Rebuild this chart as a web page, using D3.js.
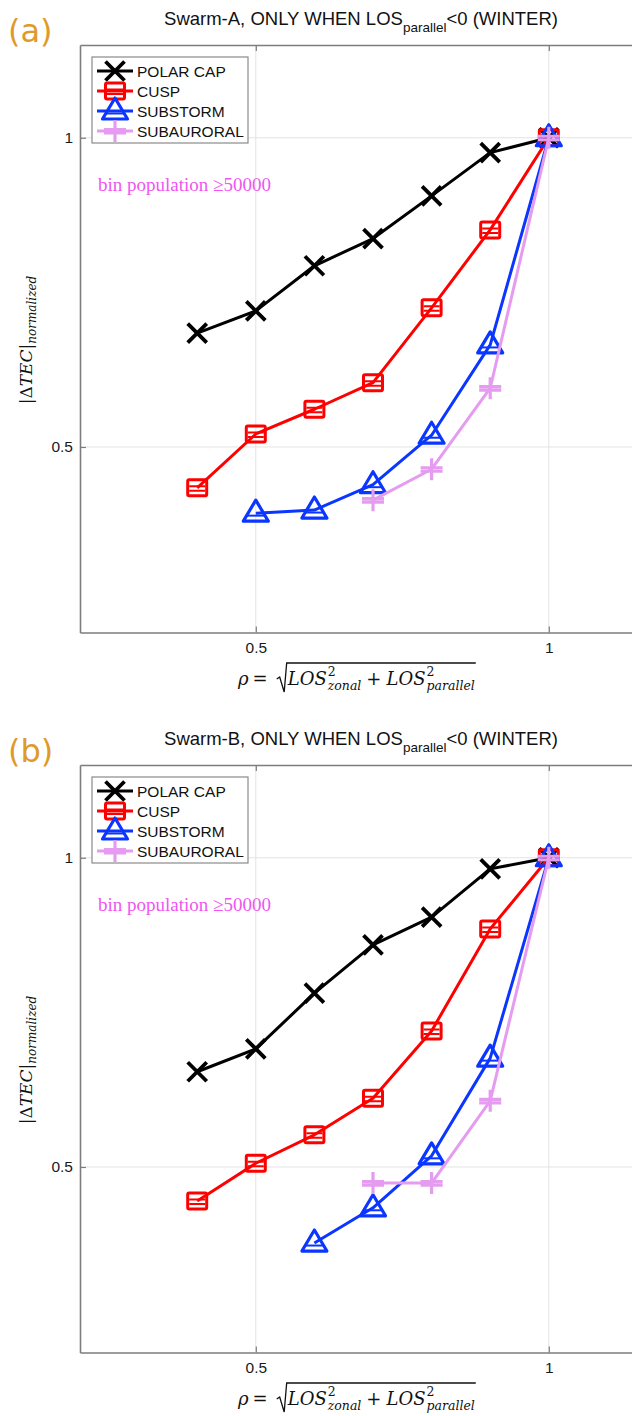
<!DOCTYPE html>
<html>
<head>
<meta charset="utf-8">
<script src="https://cdn.jsdelivr.net/npm/d3@7"></script>
<style>
  html, body { margin: 0; padding: 0; background: #fff; }
  svg { display: block; font-family: "Liberation Sans", Arial, Helvetica, sans-serif; }
  .math { font-family: "DejaVu Serif", "Liberation Serif", serif; }
  .note { font-family: "Liberation Serif", "DejaVu Serif", serif; }
  .letter { font-family: "DejaVu Sans", sans-serif; }
</style>
</head>
<body>
<svg id="chart" width="632" height="1416"></svg>
<script>
// Normalized |ΔTEC| versus rho, one panel per Swarm satellite
const rho = [0.4, 0.5, 0.6, 0.7, 0.8, 0.9, 1.0];
const regions = ["POLAR CAP", "CUSP", "SUBSTORM", "SUBAURORAL"];
const panelLetters = ["(a)", "(b)"];
const satellites = ["Swarm-A", "Swarm-B"];

// Swarm-A (winter, LOS_parallel < 0)
const polarCapA   = [0.684, 0.720, 0.793, 0.837, 0.906, 0.976, 1.0];
const cuspA       = [0.434, 0.521, 0.561, 0.604, 0.725, 0.851, 1.0];
const substormA   = [null, 0.393, 0.398, 0.439, 0.519, 0.665, 1.0];
const subauroralA = [null, null, null, 0.414, 0.464, 0.595, 1.0];

// Swarm-B (winter, LOS_parallel < 0)
const polarCapB   = [0.654, 0.691, 0.781, 0.859, 0.904, 0.982, 1.0];
const cuspB       = [0.445, 0.506, 0.552, 0.611, 0.720, 0.885, 1.0];
const substormB   = [null, null, 0.377, 0.434, 0.518, 0.676, 1.0];
const subauroralB = [null, null, null, 0.474, 0.474, 0.607, 1.0];

const xTicks = [0.5, 1];
const yTicks = [0.5, 1];
const noteText = "bin population \u226550000";

const colors = ["#000000", "#ff0000", "#0a36ff", "#e59cf0"];
const markers = ["x", "square", "triangle", "plus"];

const svg = d3.select("#chart");

function drawMarker(g, type, color) {
  const m = g.append("g").attr("fill", "none").attr("stroke", color);
  if (type === "x") {
    const s = 9.5;
    m.append("path").attr("stroke-width", 3.8)
      .attr("d", `M${-s},${-s}L${s},${s}M${-s},${s}L${s},${-s}`);
  } else if (type === "square") {
    m.append("rect").attr("x", -9.5).attr("y", -8).attr("width", 19).attr("height", 16)
      .attr("rx", 1.5).attr("stroke-width", 3);
    m.append("path").attr("stroke-width", 2).attr("d", "M-8,-1.5H8M-8,3H8");
  } else if (type === "triangle") {
    m.append("path").attr("stroke-width", 3.2).attr("stroke-linejoin", "round")
      .attr("d", "M0,-13L12.5,8L-12.5,8Z");
    m.append("path").attr("stroke-width", 2).attr("d", "M-9,2.5H9");
  } else if (type === "plus") {
    m.append("path").attr("stroke-width", 3.2)
      .attr("d", "M0,-11V11M-11,-1.5H11M-11,2H11");
  }
  return m;
}

function drawPanel(idx, offsetY, series) {
  const g = svg.append("g").attr("transform", `translate(0,${offsetY})`);
  const x = d3.scaleLinear().domain([0.2, 1.2]).range([80, 666]);
  const y = d3.scaleLinear().domain([0.2, 1.15]).range([632.5, 45]);
  const [x0, x1] = x.range();
  const [y0, y1] = y.range();

  // grid
  g.append("g").selectAll("line").data(xTicks).join("line")
    .attr("x1", d => x(d)).attr("x2", d => x(d)).attr("y1", y0).attr("y2", y1)
    .attr("stroke", "#e3e3e3").attr("stroke-width", 1);
  g.append("g").selectAll("line").data(yTicks).join("line")
    .attr("x1", x0).attr("x2", x1).attr("y1", d => y(d)).attr("y2", d => y(d))
    .attr("stroke", "#e3e3e3").attr("stroke-width", 1);

  // axes
  const axisColor = "#7d7d7d";
  const bottom = g.append("g").attr("transform", `translate(0,${y0})`)
    .call(d3.axisBottom(x).tickValues(xTicks).tickFormat(d3.format("")).tickSizeInner(-6).tickSizeOuter(0).tickPadding(9));
  const top = g.append("g").attr("transform", `translate(0,${y1})`)
    .call(d3.axisTop(x).tickValues(xTicks).tickFormat("").tickSizeInner(-6).tickSizeOuter(0));
  const left = g.append("g").attr("transform", `translate(${x0},0)`)
    .call(d3.axisLeft(y).tickValues(yTicks).tickFormat(d3.format("")).tickSizeInner(-6).tickSizeOuter(0).tickPadding(7));
  [bottom, top, left].forEach(a => {
    a.attr("font-family", null);
    a.select(".domain").attr("stroke", axisColor).attr("stroke-width", 1.6);
    a.selectAll(".tick line").attr("stroke", axisColor).attr("stroke-width", 1.2);
    a.selectAll(".tick text").attr("fill", "#1a1a1a").attr("font-size", 15.5);
  });

  // series lines and markers
  const line = d3.line().defined(d => d[1] != null).x(d => x(d[0])).y(d => y(d[1]));
  series.forEach((vals, i) => {
    const pts = rho.map((r, k) => [r, vals[k]]);
    g.append("path").datum(pts).attr("d", line)
      .attr("fill", "none").attr("stroke", colors[i]).attr("stroke-width", 3)
      .attr("stroke-linejoin", "round");
    pts.filter(d => d[1] != null).forEach(d => {
      drawMarker(g, markers[i], colors[i])
        .attr("transform", `translate(${x(d[0])},${y(d[1])})`);
    });
  });

  // note
  g.append("text").attr("class", "note").attr("x", 98).attr("y", 191)
    .attr("font-size", 19).attr("fill", "#f056f0").text(noteText);

  // legend
  const lg = g.append("g");
  lg.append("rect").attr("x", 92).attr("y", 57).attr("width", 156).attr("height", 86)
    .attr("fill", "#fff").attr("stroke", "#8a8a8a").attr("stroke-width", 1.2);
  regions.forEach((name, i) => {
    const cy = 71 + i * 20;
    lg.append("line").attr("x1", 97).attr("x2", 133).attr("y1", cy).attr("y2", cy)
      .attr("stroke", colors[i]).attr("stroke-width", 3);
    drawMarker(lg, markers[i], colors[i]).attr("transform", `translate(115,${cy})`);
    lg.append("text").attr("x", 137).attr("y", cy + 6).attr("font-size", 15.5)
      .attr("fill", "#111").text(name);
  });

  // title
  const t = g.append("text").attr("x", 361).attr("y", 25).attr("text-anchor", "middle")
    .attr("font-size", 18.5).attr("fill", "#111");
  t.append("tspan").text(`${satellites[idx]}, ONLY WHEN LOS`);
  t.append("tspan").attr("dy", 7).attr("font-size", 13.5).text("parallel");
  t.append("tspan").attr("dy", -7).text("<0 (WINTER)");

  // panel letter
  g.append("text").attr("class", "letter").attr("x", 8).attr("y", 42).attr("font-size", 32)
    .attr("fill", "#e09a2c").text(panelLetters[idx]);

  // y label |ΔTEC|_normalized
  const yl = g.append("text").attr("class", "math")
    .attr("transform", "translate(32,340) rotate(-90)").attr("text-anchor", "middle")
    .attr("font-size", 17).attr("fill", "#111");
  yl.append("tspan").text("|\u0394");
  yl.append("tspan").attr("font-style", "italic").text("TEC");
  yl.append("tspan").text("|");
  yl.append("tspan").attr("dy", 4).attr("font-size", 12).attr("font-style", "italic").text("normalized");

  // x label ρ = sqrt(LOS²_zonal + LOS²_parallel); the superscript and
  // subscript of each term sit in one text element, stacked with tspans
  const base = 685;
  const xl = g.append("g").attr("fill", "#111");
  let cx = 238;
  function piece(str, size, italic) {
    const el = xl.append("text").attr("class", "math").attr("x", cx).attr("y", base)
      .attr("font-size", size).attr("font-style", italic ? "italic" : "normal").text(str);
    return el.node().getComputedTextLength();
  }
  function scripts(sup, sub) {
    const el = xl.append("text").attr("class", "math").attr("font-size", 12.5);
    const a = el.append("tspan").attr("x", cx).attr("y", base - 9).text(sup);
    const b = el.append("tspan").attr("x", cx).attr("y", base + 5).attr("font-style", "italic").text(sub);
    return Math.max(a.node().getComputedTextLength(), b.node().getComputedTextLength());
  }
  cx += piece("\u03c1", 18, true) + 4;
  cx += piece("=", 18, false) + 9;
  const sqrtX = cx;
  cx += 11;
  const startLOS = cx;
  cx += piece("LOS", 18, true) + 1;
  cx += scripts("2", "zonal") + 5;
  cx += piece("+", 18, false) + 5;
  cx += piece("LOS", 18, true) + 1;
  cx += scripts("2", "parallel") + 1;
  xl.append("path").attr("fill", "none").attr("stroke", "#111").attr("stroke-width", 1.3)
    .attr("d", `M${sqrtX},${base - 6}L${sqrtX + 3},${base - 8}L${sqrtX + 7.5},${base + 7}L${startLOS - 1},${base - 22}L${cx},${base - 22}`);
}

drawPanel(0, 0, [polarCapA, cuspA, substormA, subauroralA]);
drawPanel(1, 720, [polarCapB, cuspB, substormB, subauroralB]);
</script>
</body>
</html>
